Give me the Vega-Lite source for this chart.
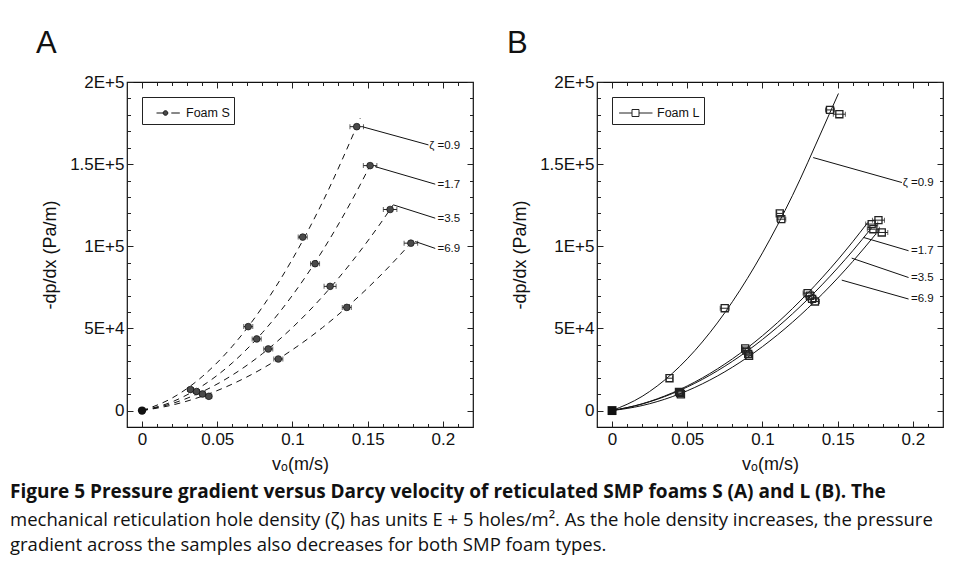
{
  "$schema": "https://vega.github.io/schema/vega-lite/v6.json",
  "background": "white",
  "padding": {"left": 10, "top": 27, "right": 5, "bottom": 5},
  "title": {
    "text": "Figure 5 Pressure gradient versus Darcy velocity of reticulated SMP foams S (A) and L (B). The",
    "subtitle": ["mechanical reticulation hole density (ζ) has units E + 5 holes/m². As the hole density increases, the pressure", "gradient across the samples also decreases for both SMP foam types."],
    "orient": "bottom", "anchor": "start", "frame": "group", "dx": -117, "offset": 9,
    "font": "Open Sans", "fontSize": 19, "fontWeight": "bold", "color": "#111",
    "subtitleFont": "Open Sans", "subtitleFontSize": 18.5, "subtitleColor": "#111", "subtitleLineHeight": 25, "subtitlePadding": 9
  },
  "resolve": {"scale": {"color": "independent"}, "legend": {"color": "independent"}},
  "datasets": {
    "curvesA": [
      {"zeta": "0.9", "v": 0, "dp": 0}, {"zeta": "0.9", "v": 0.02, "dp": 7636}, {"zeta": "0.9", "v": 0.04, "dp": 20678}, {"zeta": "0.9", "v": 0.06, "dp": 39128}, {"zeta": "0.9", "v": 0.08, "dp": 62986}, {"zeta": "0.9", "v": 0.10, "dp": 92250}, {"zeta": "0.9", "v": 0.12, "dp": 126922}, {"zeta": "0.9", "v": 0.145, "dp": 177865},
      {"zeta": "1.7", "v": 0, "dp": 0}, {"zeta": "1.7", "v": 0.02, "dp": 5312}, {"zeta": "1.7", "v": 0.04, "dp": 14988}, {"zeta": "1.7", "v": 0.06, "dp": 29028}, {"zeta": "1.7", "v": 0.08, "dp": 47432}, {"zeta": "1.7", "v": 0.10, "dp": 70201}, {"zeta": "1.7", "v": 0.12, "dp": 97334}, {"zeta": "1.7", "v": 0.14, "dp": 128830}, {"zeta": "1.7", "v": 0.153, "dp": 151647},
      {"zeta": "3.5", "v": 0, "dp": 0}, {"zeta": "3.5", "v": 0.02, "dp": 4280}, {"zeta": "3.5", "v": 0.04, "dp": 11476}, {"zeta": "3.5", "v": 0.06, "dp": 21590}, {"zeta": "3.5", "v": 0.08, "dp": 34619}, {"zeta": "3.5", "v": 0.10, "dp": 50566}, {"zeta": "3.5", "v": 0.12, "dp": 69428}, {"zeta": "3.5", "v": 0.14, "dp": 91208}, {"zeta": "3.5", "v": 0.16, "dp": 115904}, {"zeta": "3.5", "v": 0.167, "dp": 125239},
      {"zeta": "6.9", "v": 0, "dp": 0}, {"zeta": "6.9", "v": 0.02, "dp": 3347}, {"zeta": "6.9", "v": 0.04, "dp": 8725}, {"zeta": "6.9", "v": 0.06, "dp": 16134}, {"zeta": "6.9", "v": 0.08, "dp": 25573}, {"zeta": "6.9", "v": 0.10, "dp": 37044}, {"zeta": "6.9", "v": 0.12, "dp": 50546}, {"zeta": "6.9", "v": 0.14, "dp": 66078}, {"zeta": "6.9", "v": 0.16, "dp": 83641}, {"zeta": "6.9", "v": 0.18, "dp": 103236}
    ],
    "ptsA": [
      {"foam": "Foam S", "zeta": "0.9", "v": 0.0322, "dp": 12800, "lo": 0.0302, "hi": 0.0342},
      {"foam": "Foam S", "zeta": "0.9", "v": 0.0706, "dp": 51100, "lo": 0.0676, "hi": 0.0736},
      {"foam": "Foam S", "zeta": "0.9", "v": 0.1068, "dp": 105600, "lo": 0.1038, "hi": 0.1098},
      {"foam": "Foam S", "zeta": "0.9", "v": 0.1427, "dp": 172800, "lo": 0.1382, "hi": 0.1472},
      {"foam": "Foam S", "zeta": "1.7", "v": 0.0362, "dp": 11600, "lo": 0.0342, "hi": 0.0382},
      {"foam": "Foam S", "zeta": "1.7", "v": 0.0762, "dp": 43600, "lo": 0.0732, "hi": 0.0792},
      {"foam": "Foam S", "zeta": "1.7", "v": 0.115, "dp": 89400, "lo": 0.112, "hi": 0.118},
      {"foam": "Foam S", "zeta": "1.7", "v": 0.1516, "dp": 149100, "lo": 0.1471, "hi": 0.1561},
      {"foam": "Foam S", "zeta": "3.5", "v": 0.0402, "dp": 10100, "lo": 0.0382, "hi": 0.0422},
      {"foam": "Foam S", "zeta": "3.5", "v": 0.0839, "dp": 37500, "lo": 0.0809, "hi": 0.0869},
      {"foam": "Foam S", "zeta": "3.5", "v": 0.125, "dp": 75600, "lo": 0.121, "hi": 0.129},
      {"foam": "Foam S", "zeta": "3.5", "v": 0.1649, "dp": 122400, "lo": 0.1604, "hi": 0.1694},
      {"foam": "Foam S", "zeta": "6.9", "v": 0.0444, "dp": 8700, "lo": 0.0424, "hi": 0.0464},
      {"foam": "Foam S", "zeta": "6.9", "v": 0.0906, "dp": 31400, "lo": 0.0876, "hi": 0.0936},
      {"foam": "Foam S", "zeta": "6.9", "v": 0.1361, "dp": 62800, "lo": 0.1331, "hi": 0.1391},
      {"foam": "Foam S", "zeta": "6.9", "v": 0.1787, "dp": 101900, "lo": 0.1742, "hi": 0.1832}
    ],
    "leadA": [
      {"x1": 0.1471, "y1": 172600, "x2": 0.1904, "y2": 161700, "lx": 0.2115, "ly": 161200, "label": "ζ =0.9"},
      {"x1": 0.1549, "y1": 148500, "x2": 0.1949, "y2": 137800, "lx": 0.2115, "ly": 137400, "label": "=1.7"},
      {"x1": 0.1671, "y1": 125200, "x2": 0.1949, "y2": 117100, "lx": 0.2115, "ly": 116700, "label": "=3.5"},
      {"x1": 0.1816, "y1": 102900, "x2": 0.1949, "y2": 98700, "lx": 0.2115, "ly": 98500, "label": "=6.9"}
    ],
    "curvesB": [
      {"zeta": "0.9", "v": 0, "dp": 0}, {"zeta": "0.9", "v": 0.02, "dp": 8640}, {"zeta": "0.9", "v": 0.04, "dp": 22560}, {"zeta": "0.9", "v": 0.06, "dp": 41760}, {"zeta": "0.9", "v": 0.08, "dp": 66240}, {"zeta": "0.9", "v": 0.10, "dp": 96000}, {"zeta": "0.9", "v": 0.12, "dp": 131040}, {"zeta": "0.9", "v": 0.14, "dp": 171360}, {"zeta": "0.9", "v": 0.1505, "dp": 193000},
      {"zeta": "1.7", "v": 0, "dp": 0}, {"zeta": "1.7", "v": 0.02, "dp": 4130}, {"zeta": "1.7", "v": 0.04, "dp": 10751}, {"zeta": "1.7", "v": 0.06, "dp": 19863}, {"zeta": "1.7", "v": 0.08, "dp": 31467}, {"zeta": "1.7", "v": 0.10, "dp": 45560}, {"zeta": "1.7", "v": 0.12, "dp": 62144}, {"zeta": "1.7", "v": 0.14, "dp": 81219}, {"zeta": "1.7", "v": 0.16, "dp": 102784}, {"zeta": "1.7", "v": 0.170, "dp": 114500},
      {"zeta": "3.5", "v": 0, "dp": 0}, {"zeta": "3.5", "v": 0.02, "dp": 3987}, {"zeta": "3.5", "v": 0.04, "dp": 10311}, {"zeta": "3.5", "v": 0.06, "dp": 18968}, {"zeta": "3.5", "v": 0.08, "dp": 29961}, {"zeta": "3.5", "v": 0.10, "dp": 43288}, {"zeta": "3.5", "v": 0.12, "dp": 58950}, {"zeta": "3.5", "v": 0.14, "dp": 76948}, {"zeta": "3.5", "v": 0.16, "dp": 97279}, {"zeta": "3.5", "v": 0.1727, "dp": 111400},
      {"zeta": "6.9", "v": 0, "dp": 0}, {"zeta": "6.9", "v": 0.02, "dp": 3041}, {"zeta": "6.9", "v": 0.04, "dp": 8455}, {"zeta": "6.9", "v": 0.06, "dp": 16241}, {"zeta": "6.9", "v": 0.08, "dp": 26401}, {"zeta": "6.9", "v": 0.10, "dp": 38933}, {"zeta": "6.9", "v": 0.12, "dp": 53838}, {"zeta": "6.9", "v": 0.14, "dp": 71116}, {"zeta": "6.9", "v": 0.16, "dp": 90765}, {"zeta": "6.9", "v": 0.1753, "dp": 107400}
    ],
    "ptsB": [
      {"foam": "Foam L", "zeta": "0.9", "v": 0.0382, "dp": 19700, "lo": 0.0362, "hi": 0.0402},
      {"foam": "Foam L", "zeta": "0.9", "v": 0.0749, "dp": 62300, "lo": 0.0719, "hi": 0.0779},
      {"foam": "Foam L", "zeta": "0.9", "v": 0.1115, "dp": 120000, "lo": 0.1095, "hi": 0.1135},
      {"foam": "Foam L", "zeta": "0.9", "v": 0.1125, "dp": 116500, "lo": 0.1095, "hi": 0.1155},
      {"foam": "Foam L", "zeta": "0.9", "v": 0.1449, "dp": 183000, "lo": 0.1419, "hi": 0.1479},
      {"foam": "Foam L", "zeta": "0.9", "v": 0.1511, "dp": 180400, "lo": 0.1471, "hi": 0.1551},
      {"foam": "Foam L", "zeta": "1.7", "v": 0.0445, "dp": 11400, "lo": 0.0425, "hi": 0.0465},
      {"foam": "Foam L", "zeta": "1.7", "v": 0.0885, "dp": 37800, "lo": 0.0865, "hi": 0.0905},
      {"foam": "Foam L", "zeta": "1.7", "v": 0.1300, "dp": 71500, "lo": 0.127, "hi": 0.133},
      {"foam": "Foam L", "zeta": "1.7", "v": 0.1726, "dp": 113500, "lo": 0.1686, "hi": 0.1766},
      {"foam": "Foam L", "zeta": "1.7", "v": 0.1771, "dp": 115900, "lo": 0.1731, "hi": 0.1811},
      {"foam": "Foam L", "zeta": "3.5", "v": 0.0452, "dp": 10600, "lo": 0.0432, "hi": 0.0472},
      {"foam": "Foam L", "zeta": "3.5", "v": 0.0893, "dp": 36500, "lo": 0.0873, "hi": 0.0913},
      {"foam": "Foam L", "zeta": "3.5", "v": 0.1315, "dp": 69900, "lo": 0.1285, "hi": 0.1345},
      {"foam": "Foam L", "zeta": "3.5", "v": 0.1737, "dp": 110400, "lo": 0.1697, "hi": 0.1777},
      {"foam": "Foam L", "zeta": "6.9", "v": 0.0458, "dp": 9900, "lo": 0.0438, "hi": 0.0478},
      {"foam": "Foam L", "zeta": "6.9", "v": 0.0905, "dp": 34500, "lo": 0.0885, "hi": 0.0925},
      {"foam": "Foam L", "zeta": "6.9", "v": 0.0911, "dp": 33400, "lo": 0.0891, "hi": 0.0931},
      {"foam": "Foam L", "zeta": "6.9", "v": 0.1330, "dp": 68000, "lo": 0.130, "hi": 0.136},
      {"foam": "Foam L", "zeta": "6.9", "v": 0.1349, "dp": 66400, "lo": 0.1319, "hi": 0.1379},
      {"foam": "Foam L", "zeta": "6.9", "v": 0.1793, "dp": 108400, "lo": 0.1753, "hi": 0.1833}
    ],
    "leadB": [
      {"x1": 0.1337, "y1": 154000, "x2": 0.1927, "y2": 138800, "lx": 0.2138, "ly": 138800, "label": "ζ =0.9"},
      {"x1": 0.1671, "y1": 105400, "x2": 0.1971, "y2": 97300, "lx": 0.2138, "ly": 97300, "label": "=1.7"},
      {"x1": 0.1593, "y1": 92800, "x2": 0.1971, "y2": 81000, "lx": 0.2138, "ly": 81000, "label": "=3.5"},
      {"x1": 0.1527, "y1": 79400, "x2": 0.1971, "y2": 67900, "lx": 0.2138, "ly": 67900, "label": "=6.9"}
    ],
    "origin": [{"v": 0, "dp": 0}]
  },
  "spacing": 124,
  "bounds": "flush",
  "hconcat": [
    {
      "width": 346, "height": 345,
      "title": {"text": "A", "anchor": "start", "frame": "group", "dx": -91, "offset": -11, "baseline": "alphabetic", "fontSize": 31, "fontWeight": "normal", "font": "Liberation Sans", "color": "#111"},
      "resolve": {"axis": {"x": "independent", "y": "independent"}},
      "layer": [
        {
          "data": {"name": "curvesA"},
          "mark": {"type": "line", "strokeDash": [6, 5], "strokeWidth": 1, "color": "#111", "interpolate": "monotone"},
          "encoding": {
            "x": {"field": "v", "type": "quantitative", "scale": {"domain": [-0.01, 0.22], "nice": false, "zero": false},
              "axis": {"orient": "bottom", "values": [0, 0.05, 0.1, 0.15, 0.2], "labelExpr": "format(datum.value, '~g')", "tickSize": -6, "labelPadding": 10, "title": "vₒ(m/s)", "titlePadding": 8}},
            "y": {"field": "dp", "type": "quantitative", "scale": {"domain": [-10000, 200000], "nice": false, "zero": false},
              "axis": {"orient": "left", "values": [0, 50000, 100000, 150000, 200000], "labelExpr": "datum.value == 0 ? '0' : datum.value == 50000 ? '5E+4' : datum.value == 100000 ? '1E+5' : datum.value == 150000 ? '1.5E+5' : '2E+5'", "tickSize": -6, "labelPadding": 9, "title": "-dp/dx (Pa/m)", "titlePadding": 10}},
            "detail": {"field": "zeta"}
          }
        },
        {
          "data": {"name": "ptsA"},
          "mark": {"type": "errorbar", "ticks": {"size": 5}, "color": "#222", "thickness": 1},
          "encoding": {
            "x": {"field": "lo", "type": "quantitative", "scale": {"domain": [-0.01, 0.22], "nice": false, "zero": false},
              "axis": {"orient": "bottom", "values": [0.01, 0.02, 0.03, 0.04, 0.06, 0.07, 0.08, 0.09, 0.11, 0.12, 0.13, 0.14, 0.16, 0.17, 0.18, 0.19, 0.21], "labels": false, "tickSize": -3.5, "title": null}},
            "x2": {"field": "hi"},
            "y": {"field": "dp", "type": "quantitative", "scale": {"domain": [-10000, 200000], "nice": false, "zero": false},
              "axis": {"orient": "left", "values": [10000, 20000, 30000, 40000, 60000, 70000, 80000, 90000, 110000, 120000, 130000, 140000, 160000, 170000, 180000, 190000], "labels": false, "tickSize": -3.5, "title": null}}
          }
        },
        {
          "data": {"name": "ptsA"},
          "mark": {"type": "point", "shape": "circle", "filled": true, "size": 45, "stroke": "#111", "strokeWidth": 0.7, "opacity": 1},
          "encoding": {
            "x": {"field": "v", "type": "quantitative", "scale": {"domain": [-0.01, 0.22], "nice": false, "zero": false},
              "axis": {"orient": "top", "values": [0.01, 0.02, 0.03, 0.04, 0.06, 0.07, 0.08, 0.09, 0.11, 0.12, 0.13, 0.14, 0.16, 0.17, 0.18, 0.19, 0.21], "labels": false, "tickSize": -3.5, "title": null}},
            "y": {"field": "dp", "type": "quantitative", "scale": {"domain": [-10000, 200000], "nice": false, "zero": false},
              "axis": {"orient": "right", "values": [10000, 20000, 30000, 40000, 60000, 70000, 80000, 90000, 110000, 120000, 130000, 140000, 160000, 170000, 180000, 190000], "labels": false, "tickSize": -3.5, "title": null}},
            "color": {"field": "foam", "type": "nominal", "scale": {"range": ["#4a4a4a"]},
              "legend": {"title": null, "orient": "top-left", "offset": 15, "strokeColor": "#222", "fillColor": "white", "padding": 4,
                "symbolType": "M-0.13,0L0.452,0M0.852,0A0.2,0.2,0,1,1,0.452,0A0.2,0.2,0,1,1,0.852,0M1.157,0L1.896,0",
                "symbolSize": 529, "symbolStrokeWidth": 1,
                "labelFontSize": 12.5, "labelFont": "Liberation Sans", "labelColor": "#111", "labelOffset": 16,
                "encode": {"symbols": {"update": {"fill": {"value": "white"}, "stroke": {"value": "#111"}, "strokeWidth": {"value": 1}}}}}}
          }
        },
        {
          "data": {"name": "leadA"},
          "mark": {"type": "rule", "strokeWidth": 1, "color": "#111"},
          "encoding": {
            "x": {"field": "x1", "type": "quantitative", "scale": {"domain": [-0.01, 0.22], "nice": false, "zero": false},
              "axis": {"orient": "top", "values": [0, 0.05, 0.1, 0.15, 0.2], "labels": false, "tickSize": -6, "title": null}},
            "y": {"field": "y1", "type": "quantitative", "scale": {"domain": [-10000, 200000], "nice": false, "zero": false},
              "axis": {"orient": "right", "values": [0, 50000, 100000, 150000, 200000], "labels": false, "tickSize": -6, "title": null}},
            "x2": {"field": "x2"},
            "y2": {"field": "y2"}
          }
        },
        {
          "data": {"name": "leadA"},
          "mark": {"type": "text", "align": "right", "baseline": "middle", "fontSize": 11.5, "font": "Liberation Sans", "color": "#111"},
          "encoding": {
            "x": {"field": "lx", "type": "quantitative", "scale": {"domain": [-0.01, 0.22], "nice": false, "zero": false}, "axis": null},
            "y": {"field": "ly", "type": "quantitative", "scale": {"domain": [-10000, 200000], "nice": false, "zero": false}, "axis": null},
            "text": {"field": "label"}
          }
        },
        {
          "data": {"name": "origin"},
          "mark": {"type": "point", "shape": "circle", "filled": true, "size": 70, "color": "#111", "opacity": 1},
          "encoding": {
            "x": {"field": "v", "type": "quantitative", "scale": {"domain": [-0.01, 0.22], "nice": false, "zero": false}, "axis": null},
            "y": {"field": "dp", "type": "quantitative", "scale": {"domain": [-10000, 200000], "nice": false, "zero": false}, "axis": null}
          }
        }
      ]
    },
    {
      "width": 346, "height": 345,
      "title": {"text": "B", "anchor": "start", "frame": "group", "dx": -90, "offset": -11, "baseline": "alphabetic", "fontSize": 31, "fontWeight": "normal", "font": "Liberation Sans", "color": "#111"},
      "resolve": {"axis": {"x": "independent", "y": "independent"}},
      "layer": [
        {
          "data": {"name": "curvesB"},
          "mark": {"type": "line", "strokeWidth": 1, "color": "#111", "interpolate": "monotone"},
          "encoding": {
            "x": {"field": "v", "type": "quantitative", "scale": {"domain": [-0.01, 0.22], "nice": false, "zero": false},
              "axis": {"orient": "bottom", "values": [0, 0.05, 0.1, 0.15, 0.2], "labelExpr": "format(datum.value, '~g')", "tickSize": -6, "labelPadding": 10, "title": "vₒ(m/s)", "titlePadding": 8}},
            "y": {"field": "dp", "type": "quantitative", "scale": {"domain": [-10000, 200000], "nice": false, "zero": false},
              "axis": {"orient": "left", "values": [0, 50000, 100000, 150000, 200000], "labelExpr": "datum.value == 0 ? '0' : datum.value == 50000 ? '5E+4' : datum.value == 100000 ? '1E+5' : datum.value == 150000 ? '1.5E+5' : '2E+5'", "tickSize": -6, "labelPadding": 9, "title": "-dp/dx (Pa/m)", "titlePadding": 10}},
            "detail": {"field": "zeta"}
          }
        },
        {
          "data": {"name": "ptsB"},
          "mark": {"type": "errorbar", "ticks": {"size": 5}, "color": "#222", "thickness": 1},
          "encoding": {
            "x": {"field": "lo", "type": "quantitative", "scale": {"domain": [-0.01, 0.22], "nice": false, "zero": false},
              "axis": {"orient": "bottom", "values": [0.01, 0.02, 0.03, 0.04, 0.06, 0.07, 0.08, 0.09, 0.11, 0.12, 0.13, 0.14, 0.16, 0.17, 0.18, 0.19, 0.21], "labels": false, "tickSize": -3.5, "title": null}},
            "x2": {"field": "hi"},
            "y": {"field": "dp", "type": "quantitative", "scale": {"domain": [-10000, 200000], "nice": false, "zero": false},
              "axis": {"orient": "left", "values": [10000, 20000, 30000, 40000, 60000, 70000, 80000, 90000, 110000, 120000, 130000, 140000, 160000, 170000, 180000, 190000], "labels": false, "tickSize": -3.5, "title": null}}
          }
        },
        {
          "data": {"name": "ptsB"},
          "mark": {"type": "point", "shape": "square", "filled": false, "size": 50, "strokeWidth": 1.3, "opacity": 1},
          "encoding": {
            "x": {"field": "v", "type": "quantitative", "scale": {"domain": [-0.01, 0.22], "nice": false, "zero": false},
              "axis": {"orient": "top", "values": [0.01, 0.02, 0.03, 0.04, 0.06, 0.07, 0.08, 0.09, 0.11, 0.12, 0.13, 0.14, 0.16, 0.17, 0.18, 0.19, 0.21], "labels": false, "tickSize": -3.5, "title": null}},
            "y": {"field": "dp", "type": "quantitative", "scale": {"domain": [-10000, 200000], "nice": false, "zero": false},
              "axis": {"orient": "right", "values": [10000, 20000, 30000, 40000, 60000, 70000, 80000, 90000, 110000, 120000, 130000, 140000, 160000, 170000, 180000, 190000], "labels": false, "tickSize": -3.5, "title": null}},
            "color": {"field": "foam", "type": "nominal", "scale": {"range": ["#222"]},
              "legend": {"title": null, "orient": "top-left", "offset": 15, "strokeColor": "#222", "fillColor": "white", "padding": 4,
                "symbolType": "M-0.774,0L0.348,0M0.957,0L2.13,0M0.348,-0.304L0.957,-0.304L0.957,0.304L0.348,0.304Z",
                "symbolSize": 529, "symbolStrokeWidth": 1,
                "labelFontSize": 12.5, "labelFont": "Liberation Sans", "labelColor": "#111", "labelOffset": 17,
                "encode": {"symbols": {"update": {"fill": {"value": "white"}, "stroke": {"value": "#111"}, "strokeWidth": {"value": 1}}}}}}
          }
        },
        {
          "data": {"name": "leadB"},
          "mark": {"type": "rule", "strokeWidth": 1, "color": "#111"},
          "encoding": {
            "x": {"field": "x1", "type": "quantitative", "scale": {"domain": [-0.01, 0.22], "nice": false, "zero": false},
              "axis": {"orient": "top", "values": [0, 0.05, 0.1, 0.15, 0.2], "labels": false, "tickSize": -6, "title": null}},
            "y": {"field": "y1", "type": "quantitative", "scale": {"domain": [-10000, 200000], "nice": false, "zero": false},
              "axis": {"orient": "right", "values": [0, 50000, 100000, 150000, 200000], "labels": false, "tickSize": -6, "title": null}},
            "x2": {"field": "x2"},
            "y2": {"field": "y2"}
          }
        },
        {
          "data": {"name": "leadB"},
          "mark": {"type": "text", "align": "right", "baseline": "middle", "fontSize": 11.5, "font": "Liberation Sans", "color": "#111"},
          "encoding": {
            "x": {"field": "lx", "type": "quantitative", "scale": {"domain": [-0.01, 0.22], "nice": false, "zero": false}, "axis": null},
            "y": {"field": "ly", "type": "quantitative", "scale": {"domain": [-10000, 200000], "nice": false, "zero": false}, "axis": null},
            "text": {"field": "label"}
          }
        },
        {
          "data": {"name": "origin"},
          "mark": {"type": "point", "shape": "square", "filled": true, "size": 80, "color": "#111", "opacity": 1},
          "encoding": {
            "x": {"field": "v", "type": "quantitative", "scale": {"domain": [-0.01, 0.22], "nice": false, "zero": false}, "axis": null},
            "y": {"field": "dp", "type": "quantitative", "scale": {"domain": [-10000, 200000], "nice": false, "zero": false}, "axis": null}
          }
        }
      ]
    }
  ],
  "config": {
    "view": {"stroke": "#111", "strokeWidth": 1.2},
    "axis": {"domain": false, "grid": false, "labelFont": "Liberation Sans", "titleFont": "Liberation Sans", "labelFontSize": 17, "titleFontSize": 18, "titleFontWeight": "normal", "labelColor": "#111", "titleColor": "#111", "tickColor": "#222", "tickWidth": 1}
  }
}
